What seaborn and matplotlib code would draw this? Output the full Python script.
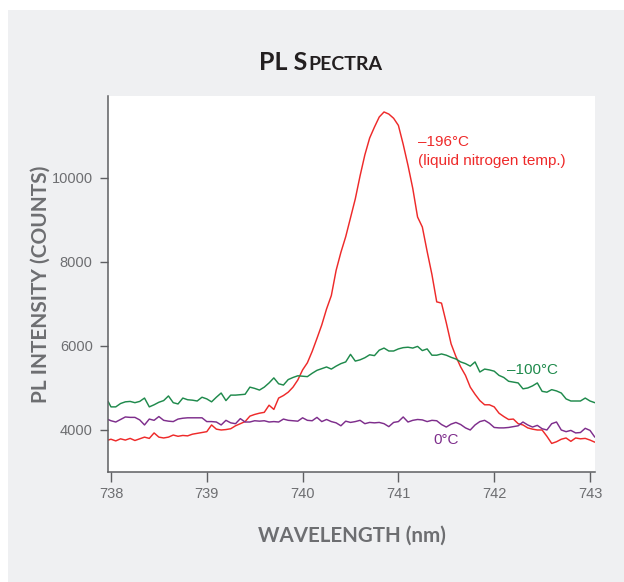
import numpy as np
import pandas as pd
import seaborn as sns
import matplotlib as mpl
from matplotlib import pyplot as plt
from matplotlib.patches import Rectangle

sns.set_theme(style="white")
mpl.rcParams["font.family"] = ["Liberation Sans", "DejaVu Sans"]

PANEL_GRAY = "#EFF0F2"
AXIS_GRAY = "#5E5F62"
TEXT_GRAY = "#6D6E71"
RED = "#EE2A2A"
GREEN = "#1F8A4C"
PURPLE = "#7E2E8C"

# wavelength samples (nm)
wavelength = [
    737.97, 738.00, 738.05, 738.10, 738.15, 738.20, 738.25, 738.30, 738.35, 738.40,
    738.45, 738.50, 738.55, 738.60, 738.65, 738.70, 738.75, 738.80, 738.85, 738.90,
    738.95, 739.00, 739.05, 739.10, 739.15, 739.20, 739.25, 739.30, 739.35, 739.40,
    739.45, 739.50, 739.55, 739.60, 739.65, 739.70, 739.75, 739.80, 739.85, 739.90,
    739.95, 740.00, 740.05, 740.10, 740.15, 740.20, 740.25, 740.30, 740.35, 740.40,
    740.45, 740.50, 740.55, 740.60, 740.65, 740.70, 740.75, 740.80, 740.85, 740.90,
    740.95, 741.00, 741.05, 741.10, 741.15, 741.20, 741.25, 741.30, 741.35, 741.40,
    741.45, 741.50, 741.55, 741.60, 741.65, 741.70, 741.75, 741.80, 741.85, 741.90,
    741.95, 742.00, 742.05, 742.10, 742.15, 742.20, 742.25, 742.30, 742.35, 742.40,
    742.45, 742.50, 742.55, 742.60, 742.65, 742.70, 742.75, 742.80, 742.85, 742.90,
    742.95, 743.00, 743.05,
]

# PL intensity (counts)
minus_196 = [
    3760, 3780, 3740, 3790, 3760, 3800, 3750, 3790, 3830, 3800,
    3930, 3830, 3810, 3830, 3880, 3850, 3870, 3860, 3900, 3920,
    3940, 3960, 4120, 4020, 4000, 4010, 4030, 4100, 4150, 4200,
    4330, 4370, 4400, 4420, 4590, 4490, 4760, 4820, 4900, 5020,
    5190, 5430, 5600, 5870, 6180, 6500, 6880, 7200, 7800, 8230,
    8600, 9050, 9500, 10050, 10550, 10950, 11210, 11450, 11570, 11520,
    11420, 11250, 10800, 10300, 9750, 9070, 8830, 8250, 7700, 7050,
    7020, 6550, 6050, 5750, 5500, 5300, 5020, 4850, 4700, 4600,
    4600, 4550, 4400, 4320, 4250, 4260, 4150, 4120, 4050, 4020,
    4000, 4000, 3850, 3680, 3720, 3780, 3810, 3730, 3810, 3790,
    3800, 3760, 3710,
]

minus_100 = [
    4680, 4550, 4550, 4630, 4670, 4680, 4650, 4680, 4760, 4550,
    4600, 4660, 4700, 4810, 4650, 4620, 4760, 4720, 4710, 4690,
    4780, 4740, 4670, 4780, 4880, 4700, 4830, 4830, 4840, 4850,
    5020, 4990, 4950, 5020, 5120, 5240, 5100, 5070, 5200, 5250,
    5290, 5280, 5270, 5350, 5420, 5460, 5500, 5450, 5520, 5580,
    5620, 5800, 5640, 5670, 5720, 5790, 5770, 5900, 5950, 5880,
    5880, 5930, 5960, 5970, 5950, 5990, 5890, 5930, 5780, 5780,
    5810, 5780, 5730, 5690, 5620, 5580, 5520, 5620, 5380, 5450,
    5430, 5400, 5300, 5250, 5160, 5140, 5120, 4980, 5000, 5050,
    5120, 4920, 4900, 4960, 4930, 4880, 4740, 4690, 4690, 4690,
    4760, 4690, 4650,
]

zero_c = [
    4250, 4220, 4190, 4250, 4310, 4300, 4300, 4240, 4120, 4260,
    4230, 4320, 4230, 4210, 4200, 4260, 4280, 4290, 4290, 4290,
    4290, 4200, 4200, 4190, 4120, 4230, 4170, 4150, 4270, 4190,
    4190, 4220, 4210, 4220, 4190, 4200, 4190, 4260, 4230, 4220,
    4210, 4290, 4230, 4220, 4300, 4200, 4250, 4200, 4170, 4100,
    4210, 4180, 4200, 4230, 4150, 4180, 4170, 4180, 4150, 4080,
    4180, 4200, 4310, 4190, 4230, 4250, 4240, 4200, 4230, 4220,
    4130, 4070, 4140, 4180, 4130, 4050, 4000, 4120, 4200, 4230,
    4160, 4060, 4050, 4050, 4060, 4080, 4100, 4190, 4120, 4070,
    4110, 4030, 4000, 4150, 4190, 4000, 3960, 3990, 3930, 3940,
    4040, 3990, 3830,
]

x_ticks = [738, 739, 740, 741, 742, 743]
y_ticks = [4000, 6000, 8000, 10000]

series_names = ["-196", "-100", "0"]
palette = {"-196": RED, "-100": GREEN, "0": PURPLE}

df = pd.concat([
    pd.DataFrame({"wavelength": wavelength, "intensity": minus_196, "temp": "-196"}),
    pd.DataFrame({"wavelength": wavelength, "intensity": minus_100, "temp": "-100"}),
    pd.DataFrame({"wavelength": wavelength, "intensity": zero_c, "temp": "0"}),
])

W, H = 624, 582
fig = plt.figure(figsize=(W / 100, H / 100), dpi=100)
fig.patch.set_facecolor("white")
fig.patches.append(Rectangle((8 / W, 0), 1 - 8 / W, 1 - 10 / H,
                             transform=fig.transFigure, facecolor=PANEL_GRAY,
                             edgecolor="none", zorder=-10))

ax = fig.add_axes([108 / W, 1 - 472 / H, (595 - 108) / W, (472 - 96) / H])
ax.set_facecolor("white")

sns.lineplot(
    data=df, x="wavelength", y="intensity", hue="temp",
    hue_order=series_names, palette=palette, estimator=None, sort=False,
    lw=1.05, legend=False, ax=ax,
)

ax.set_xlim(737.969, 743.052)
ax.set_ylim(3000, 11950)
ax.set_xticks(x_ticks)
ax.set_yticks(y_ticks)

for side in ["top", "right"]:
    ax.spines[side].set_visible(False)
for side in ["left", "bottom"]:
    ax.spines[side].set_color(AXIS_GRAY)
    ax.spines[side].set_linewidth(1.1)

ax.tick_params(axis="x", direction="out", length=7, width=1, color=AXIS_GRAY,
               labelcolor=TEXT_GRAY, labelsize=10.5, pad=4, bottom=True)
ax.tick_params(axis="y", direction="out", length=6, width=1, color=AXIS_GRAY,
               labelcolor=TEXT_GRAY, labelsize=10.5, pad=5, left=True)

label_font = dict(family=["Lato", "DejaVu Sans"], weight="bold", color=TEXT_GRAY)
ax.set_xlabel("WAVELENGTH (nm)", fontsize=14.8, **label_font)
ax.set_ylabel("PL INTENSITY (COUNTS)", fontsize=15, **label_font)
ax.xaxis.set_label_coords((352 - 108) / 487, (472 - 536) / 376)
ax.yaxis.set_label_coords((41 - 108) / 487, 0.5)
ax.xaxis.label.set_verticalalignment("center")
ax.yaxis.label.set_verticalalignment("center")

note = dict(fontsize=11)
ax.text(741.20, 10855, "\u2013196\u00b0C", color=RED, va="center", ha="left", **note)
ax.text(741.20, 10400, "(liquid nitrogen temp.)", color=RED, va="center", ha="left", **note)
ax.text(742.13, 5430, "\u2013100\u00b0C", color=GREEN, va="center", ha="left", **note)
ax.text(741.36, 3760, "0\u00b0C", color=PURPLE, va="center", ha="left", **note)

# small-caps title
title_font = dict(family=["Lato", "DejaVu Sans"], weight="bold", color="#231F20", va="baseline")
yb = 1 - 70 / H
t1 = fig.text(0, yb, "PL S", fontsize=18, **title_font)
t2 = fig.text(0, yb, "PECTRA", fontsize=14, **title_font)
fig.canvas.draw()
r = fig.canvas.get_renderer()
w1 = t1.get_window_extent(r).width
w2 = t2.get_window_extent(r).width
x0 = 321 - (w1 + w2 + 1) / 2
t1.set_x(x0 / W)
t2.set_x((x0 + w1 + 1) / W)

fig.savefig("out.png", dpi=100)
